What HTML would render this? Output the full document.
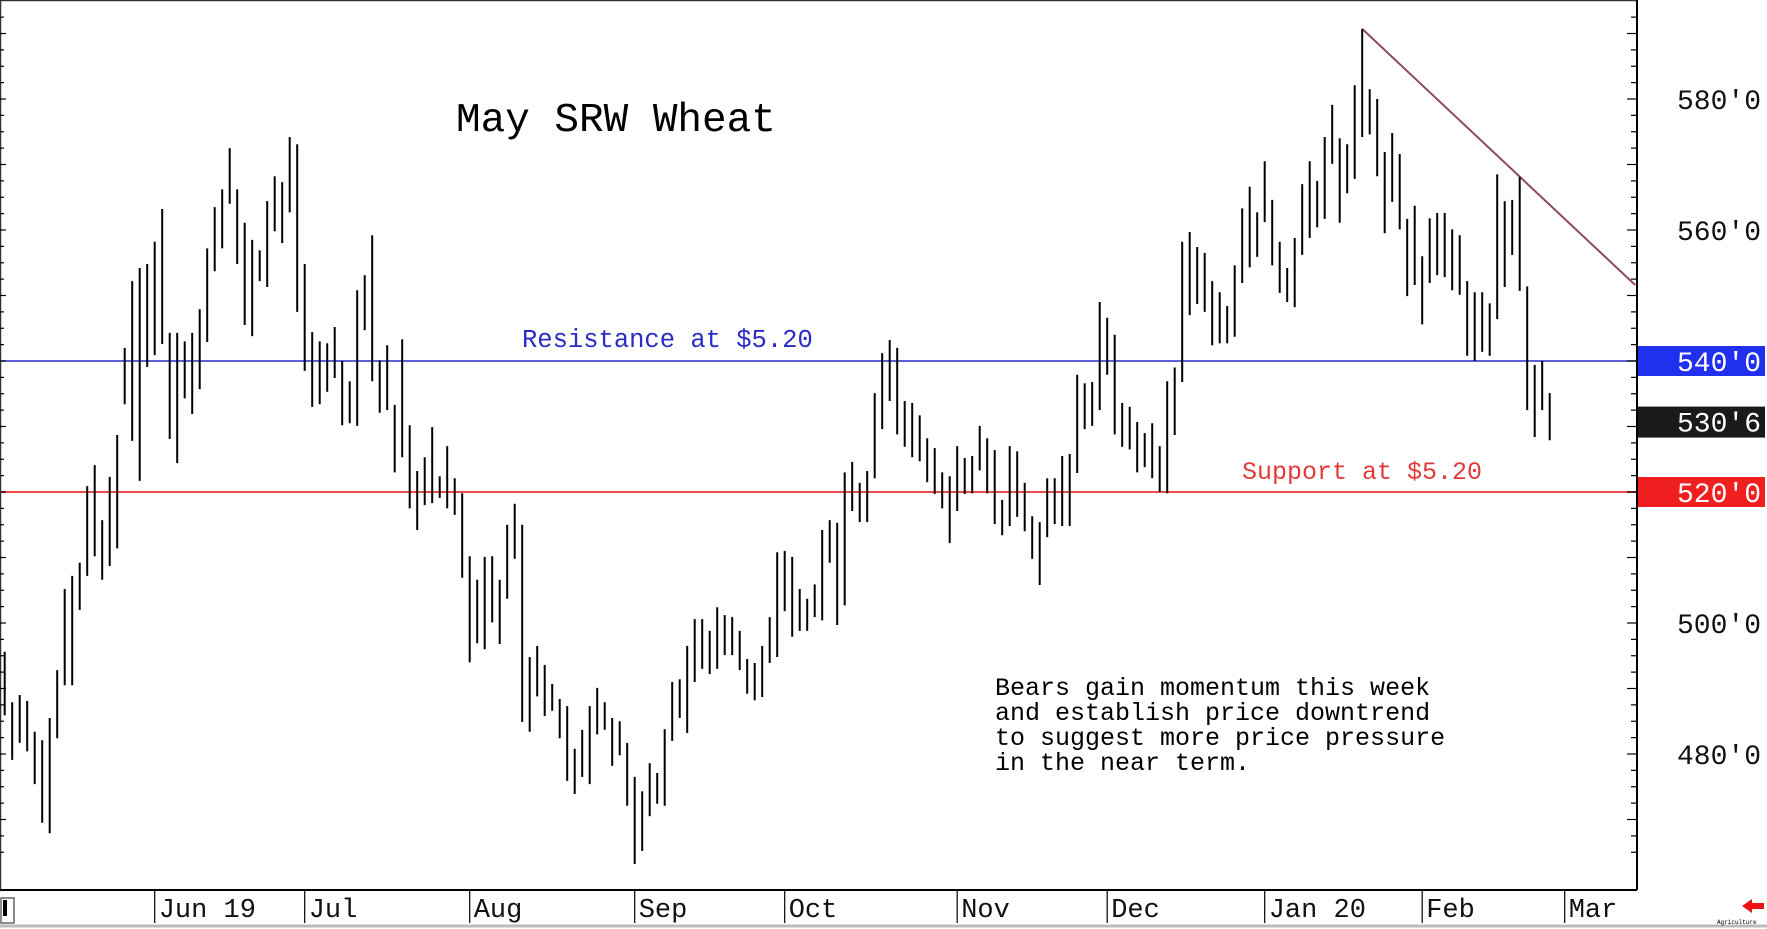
<!DOCTYPE html>
<html><head><meta charset="utf-8"><style>
html,body{margin:0;padding:0;background:#fff;}
svg{display:block;}
text{font-family:"Liberation Mono","DejaVu Sans Mono",monospace;}
</style></head><body>
<svg id="chart" width="1767" height="929" viewBox="0 0 1767 929" xmlns="http://www.w3.org/2000/svg">
<rect x="0" y="0" width="1767" height="929" fill="#fff"/>
<line x1="0" y1="0.5" x2="1637" y2="0.5" stroke="#333" stroke-width="1.5"/>
<line x1="0.5" y1="0" x2="0.5" y2="890" stroke="#333" stroke-width="1.5"/>
<g id="grid"></g>
<g id="bars"></g>
<g id="yaxis"></g>
<g id="xaxis"></g>
<text x="456" y="131" font-size="41" fill="#000">May SRW Wheat</text>
<text x="522" y="347" font-size="25.5" fill="#2b2bc8">Resistance at $5.20</text>
<text x="1242" y="479" font-size="25" fill="#e23a3a">Support at $5.20</text>
<g font-size="25" fill="#000">
<text x="995" y="695">Bears gain momentum this week</text>
<text x="995" y="720">and establish price downtrend</text>
<text x="995" y="745">to suggest more price pressure</text>
<text x="995" y="770">in the near term.</text>
</g>
<rect x="1" y="898" width="13" height="25" fill="#fff" stroke="#666" stroke-width="1.5"/>
<rect x="3" y="900" width="4" height="16" fill="#000"/>
<line x1="0" y1="926" x2="1767" y2="926" stroke="#bbb" stroke-width="3"/>
<polygon points="1742,906 1752,899 1752,903 1764,903 1764,909 1752,909 1752,913" fill="#e11"/>
<text x="1717" y="924" font-size="6" fill="#000">Agriculture</text>
</svg>
<script>
const highs=[495.6,487.9,489.0,488.1,483.4,482.1,485.5,492.8,505.2,507.2,509.2,520.9,524.1,515.7,522.3,528.7,542.0,552.2,554.2,554.8,558.2,563.2,544.3,544.3,543.0,544.3,547.9,557.2,563.5,566.2,572.5,566.2,561.1,558.5,556.9,564.4,568.2,567.3,574.2,573.1,554.8,544.4,543.0,542.7,545.2,540.0,536.9,550.8,553.1,559.2,540.1,542.4,533.3,543.3,530.2,523.2,525.3,529.9,522.4,527.0,522.1,519.8,510.2,506.6,510.1,510.2,506.6,515.0,518.2,515.0,494.8,496.5,493.6,490.7,488.4,487.3,480.8,483.7,487.3,490.1,487.9,485.5,485.0,481.7,476.5,474.3,478.6,477.1,483.8,491.0,491.4,496.5,500.6,500.6,498.8,502.4,501.2,500.9,498.8,494.5,493.9,496.5,500.9,510.8,511.0,510.1,505.2,503.7,505.9,514.2,515.7,515.3,523.0,524.6,521.4,523.2,535.1,541.2,543.2,542.0,533.9,533.6,531.7,528.2,526.7,523.0,522.4,527.0,525.2,525.5,530.1,528.2,526.4,518.8,527.0,526.2,521.4,516.3,515.4,522.1,522.1,525.5,525.8,537.9,536.6,536.8,549.0,546.6,544.0,533.6,533.0,530.7,529.0,530.5,527.0,536.9,539.0,558.2,559.7,557.4,556.5,552.2,550.5,548.4,554.6,563.3,566.6,562.7,570.5,564.6,558.2,554.2,558.8,567.0,570.5,567.5,574.2,579.1,574.0,573.1,582.1,590.7,581.5,580.0,571.9,574.8,571.6,561.7,563.7,556.0,561.8,562.6,562.6,560.1,559.2,552.2,550.5,550.5,548.8,568.5,564.4,564.6,568.1,551.4,539.4,540.0,535.1];
const lows=[485.9,479.1,481.7,480.4,475.4,469.5,467.9,482.4,490.5,490.5,502.0,507.2,510.2,506.6,508.7,511.4,533.4,527.8,521.7,539.1,540.9,542.6,528.1,524.4,534.3,531.9,535.7,542.9,553.7,557.2,564.0,554.8,545.5,543.8,552.2,551.3,559.8,558.0,562.7,547.5,538.5,533.0,533.4,535.3,537.4,530.2,530.5,530.1,544.7,536.9,532.1,532.5,523.0,525.3,517.5,514.2,518.0,518.3,519.1,517.5,516.5,506.9,494.0,496.9,496.0,500.1,496.8,503.7,509.8,484.9,483.4,488.8,485.8,486.6,482.4,475.9,473.9,476.5,475.4,483.0,483.7,478.2,479.8,472.1,463.2,465.2,470.5,472.4,472.1,482.0,485.5,483.2,491.0,493.0,492.2,493.0,495.1,495.1,492.8,489.2,488.2,488.7,493.9,494.8,501.8,497.9,498.8,498.8,500.9,500.4,509.2,499.7,502.7,517.1,515.4,515.4,522.1,529.6,533.9,528.8,526.9,525.3,524.7,521.5,519.7,517.5,512.2,517.1,519.7,519.8,523.3,519.8,515.1,513.4,514.8,516.2,514.0,509.8,505.8,513.1,515.1,514.8,514.8,522.9,529.6,530.1,532.5,537.9,528.8,526.9,526.5,523.0,523.8,522.1,520.0,519.8,528.7,536.8,547.0,548.7,547.5,542.4,542.7,542.7,543.7,551.9,554.3,555.9,561.2,554.6,550.4,549.0,548.2,556.2,558.8,560.4,561.7,570.1,561.1,565.6,567.8,574.2,574.6,568.2,559.5,564.3,560.1,549.9,551.6,545.6,551.9,553.1,552.8,550.8,550.1,540.8,540.0,541.4,540.8,546.4,551.3,556.2,550.7,532.5,528.4,532.5,527.9];
const yTickLabels=["580'0","560'0","540'0","520'0","500'0","480'0"];
const yTickValues=[580,560,540,520,500,480];
const monthLabels=["Jun 19","Jul","Aug","Sep","Oct","Nov","Dec","Jan 20","Feb","Mar"];
const monthBarIndex=[20,40,62,84,104,127,147,168,189,208];
const resistanceLevel=540, supportLevel=520, lastPrice=530.75, lastLabel="530'6";
const trendStart=[181,590.7], trendEnd=[217.4,551.6];

const NS="http://www.w3.org/2000/svg";
const X0=4.7, DX=7.5, PR=1637;
function x(i){return X0+i*DX;}
function y(p){return 361+(540-p)*6.55;}
function mk(tag,attrs,parent){const e=document.createElementNS(NS,tag);for(const k in attrs)e.setAttribute(k,attrs[k]);parent.appendChild(e);return e;}

const bars=document.getElementById('bars');
for(let i=0;i<highs.length;i++){
  const l=mk('line',{x1:x(i),x2:x(i),y1:y(highs[i]),y2:y(lows[i]),stroke:'#000','stroke-width':2},bars);
  
  
}
const grid=document.getElementById('grid');
let r=mk('line',{x1:0,x2:PR,y1:y(resistanceLevel),y2:y(resistanceLevel),stroke:'#2b2bc8','stroke-width':1.5},grid);


let s=mk('line',{x1:0,x2:PR,y1:y(supportLevel),y2:y(supportLevel),stroke:'#ef4a4a','stroke-width':2},grid);


const t1x=x(trendStart[0]),t1y=y(trendStart[1]),t2x=x(trendEnd[0]),t2y=y(trendEnd[1]);
let tr=mk('line',{x1:t1x,y1:t1y,x2:t2x,y2:t2y,stroke:'#8e4a5c','stroke-width':2},grid);



const ya=document.getElementById('yaxis');
let ax=mk('line',{x1:PR,x2:PR,y1:0,y2:890,stroke:'#000','stroke-width':2},ya);


for(let v=465;v<=595;v+=2.5){
  const yy=y(v); if(yy<2||yy>888)continue;
  const major=(v%10===0);
  const t=mk('line',{x1:PR-(major?10:6),x2:PR,y1:yy,y2:yy,stroke:'#000','stroke-width':1.2},ya);
  
  
  const t2=mk('line',{x1:0,x2:(major?6:4),y1:yy,y2:yy,stroke:'#000','stroke-width':1.2},ya);
  
  
}
for(let i=0;i<yTickValues.length;i++){
  const v=yTickValues[i];
  let bg=null;
  if(v===resistanceLevel)bg='#2030ee';
  if(v===supportLevel)bg='#f02020';
  if(bg){const b=mk('rect',{x:PR+1,y:y(v)-15,width:127,height:30,fill:bg},ya);
    
    }
  const tx=mk('text',{x:1761,y:y(v)+10,'font-size':28,'text-anchor':'end',fill:bg?'#fff':'#111'},ya);
  tx.textContent=yTickLabels[i];
  
  
}
const lb=mk('rect',{x:PR+1,y:y(lastPrice)-15,width:127,height:31,fill:'#1a1a1a'},ya);


const lt=mk('text',{x:1761,y:y(lastPrice)+10,'font-size':28,'text-anchor':'end',fill:'#fff'},ya);
lt.textContent=lastLabel;



const xa=document.getElementById('xaxis');
let xl=mk('line',{x1:0,x2:PR,y1:890,y2:890,stroke:'#000','stroke-width':2},xa);


for(let i=0;i<monthLabels.length;i++){
  const mx=x(monthBarIndex[i]);
  const t=mk('line',{x1:mx,x2:mx,y1:890,y2:923,stroke:'#000','stroke-width':1.2},xa);
  
  
  const tx=mk('text',{x:mx+4,y:917,'font-size':27,fill:'#111'},xa);
  tx.textContent=monthLabels[i];
  
  
}
</script>
</body></html>
